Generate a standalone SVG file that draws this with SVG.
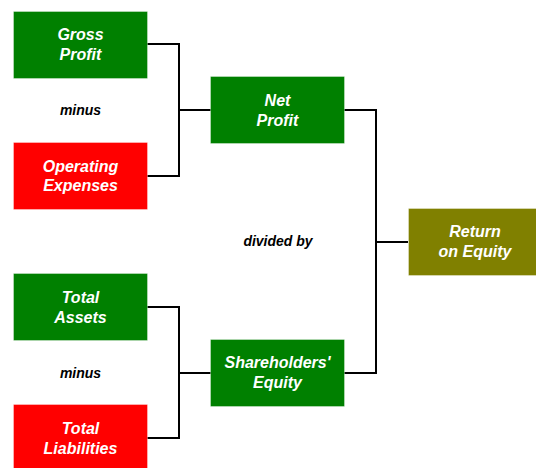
<svg xmlns="http://www.w3.org/2000/svg" width="536" height="468" viewBox="0 0 536 468">
<style>
.box{stroke:#ffffff;stroke-opacity:0.35;stroke-width:1}
.g{fill:#008000}.r{fill:#ff0000}.o{fill:#808000}
.t{font-family:"Liberation Sans",Arial,sans-serif;font-size:16px;font-weight:bold;font-style:italic;fill:#ffffff;text-anchor:middle}
.l{font-family:"Liberation Sans",Arial,sans-serif;font-size:14px;font-weight:bold;font-style:italic;fill:#000000;text-anchor:middle}
.c{fill:none;stroke:#000000;stroke-width:2}
</style>
<rect width="536" height="468" fill="#ffffff"/>
<g id="connectors">
<path class="c" d="M147,44 H179 V176 H147 M179,110 H211"/>
<path class="c" d="M147,307 H179 V438 H147 M179,373 H211"/>
<path class="c" d="M344,110 H376 V373 H344 M376,242 H408"/>
</g>
<g id="gross-profit"><rect class="box g" x="13.5" y="11.5" width="134" height="67"/><text class="t" x="80.5" y="40">Gross</text><text class="t" x="80.5" y="60">Profit</text></g>
<g id="operating-expenses"><rect class="box r" x="13.5" y="142.5" width="134" height="67"/><text class="t" x="80.5" y="172">Operating</text><text class="t" x="80.5" y="191">Expenses</text></g>
<g id="net-profit"><rect class="box g" x="210.5" y="76.5" width="134" height="67"/><text class="t" x="277.5" y="106">Net</text><text class="t" x="277.5" y="126">Profit</text></g>
<g id="total-assets"><rect class="box g" x="13.5" y="273.5" width="134" height="67"/><text class="t" x="80.5" y="303">Total</text><text class="t" x="80.5" y="323">Assets</text></g>
<g id="total-liabilities"><rect class="box r" x="13.5" y="404.5" width="134" height="67"/><text class="t" x="80.5" y="434">Total</text><text class="t" x="80.5" y="454">Liabilities</text></g>
<g id="shareholders-equity"><rect class="box g" x="210.5" y="339.5" width="134" height="67"/><text class="t" x="277.5" y="368">Shareholders'</text><text class="t" x="277.5" y="388">Equity</text></g>
<g id="return-on-equity"><rect class="box o" x="408.5" y="208.5" width="134" height="67"/><text class="t" x="475" y="237">Return</text><text class="t" x="475" y="257">on Equity</text></g>
<g id="labels">
<text class="l" x="80.5" y="115">minus</text>
<text class="l" x="278" y="246">divided by</text>
<text class="l" x="80.5" y="378">minus</text>
</g>
</svg>
